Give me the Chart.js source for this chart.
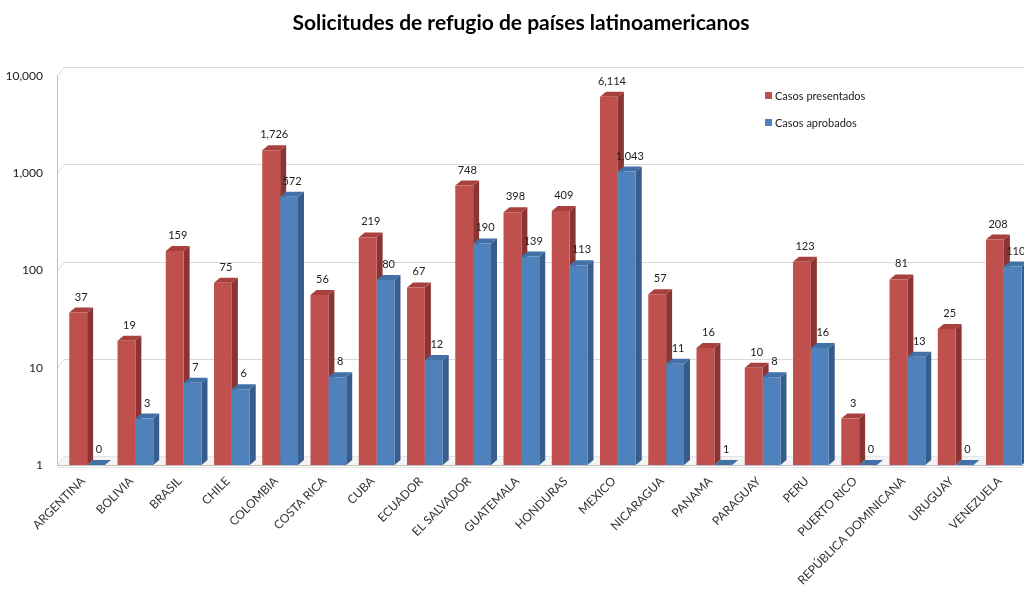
<!DOCTYPE html>
<html>
<head>
<meta charset="utf-8">
<script src="https://cdn.jsdelivr.net/npm/chart.js@4/dist/chart.umd.min.js"></script>
<style>
  html, body { margin: 0; padding: 0; background: #fff; overflow: hidden; }
  #wrap { width: 1024px; height: 594px; overflow: hidden; }
</style>
</head>
<body>
<div id="wrap"><canvas id="chart" width="1040" height="594"></canvas></div>
<script>
'use strict';

// ── Data ─────────────────────────────────────────────────────────────────────
const TITLE = 'Solicitudes de refugio de países latinoamericanos';
const PAISES = ['ARGENTINA', 'BOLIVIA', 'BRASIL', 'CHILE', 'COLOMBIA', 'COSTA RICA', 'CUBA',
  'ECUADOR', 'EL SALVADOR', 'GUATEMALA', 'HONDURAS', 'MEXICO', 'NICARAGUA', 'PANAMA',
  'PARAGUAY', 'PERU', 'PUERTO RICO', 'REPÚBLICA DOMINICANA', 'URUGUAY', 'VENEZUELA'];
const PRESENTADOS = [37, 19, 159, 75, 1726, 56, 219, 67, 748, 398, 409, 6114, 57, 16, 10, 123, 3, 81, 25, 208];
const APROBADOS   = [0, 3, 7, 6, 572, 8, 80, 12, 190, 139, 113, 1043, 11, 1, 8, 16, 0, 13, 0, 110];
const Y_TICKS = [1, 10, 100, 1000, 10000];

// ── Look ─────────────────────────────────────────────────────────────────────
const FONT = 'Lato, "Open Sans", sans-serif';
const COLORS = [
  { front: '#c0504d', side: '#8a3533', top: '#a8413e' },
  { front: '#4f81bd', side: '#365d8c', top: '#4271a8' },
];
const BAR_DX = 6, BAR_DY = 5;     // bar depth
const WALL_DX = 7, WALL_DY = 9;   // back wall offset

const fmt = v => v.toLocaleString('en-US');

// back wall, floor, bar sides and tops (fronts are drawn by Chart.js)
const depthPlugin = {
  id: 'depth',
  beforeDatasetsDraw(chart) {
    const { ctx, chartArea: a, scales: { y } } = chart;
    const ax = a.left - 6;
    ctx.save();
    ctx.strokeStyle = '#d9d9d9';
    ctx.lineWidth = 1;
    Y_TICKS.forEach(v => {
      const py = Math.round(y.getPixelForValue(v)) + 0.5;
      ctx.beginPath();
      ctx.moveTo(ax, py);
      ctx.lineTo(ax + WALL_DX, py - WALL_DY);
      ctx.lineTo(chart.width, py - WALL_DY);
      ctx.stroke();
    });
    // floor
    const fy = Math.round(a.bottom) + 0.5;
    ctx.fillStyle = '#f4f4f4';
    ctx.beginPath();
    ctx.moveTo(ax, fy);
    ctx.lineTo(ax + WALL_DX, fy - WALL_DY);
    ctx.lineTo(chart.width, fy - WALL_DY);
    ctx.lineTo(chart.width, fy);
    ctx.closePath();
    ctx.fill();
    ctx.strokeStyle = '#bfbfbf';
    ctx.beginPath();
    ctx.moveTo(ax + 0.5, a.top);
    ctx.lineTo(ax + 0.5, fy);
    ctx.lineTo(chart.width, fy);
    ctx.stroke();
    ctx.strokeStyle = '#e6e6e6';
    ctx.beginPath();
    ctx.moveTo(ax + 0.5, fy + 2);
    ctx.lineTo(chart.width, fy + 2);
    ctx.stroke();

    chart.data.datasets.forEach((ds, di) => {
      const c = COLORS[di];
      chart.getDatasetMeta(di).data.forEach(bar => {
        const x1 = bar.x - bar.width / 2, x2 = bar.x + bar.width / 2;
        const top = bar.y, base = bar.base;
        ctx.fillStyle = c.side;
        ctx.beginPath();
        ctx.moveTo(x2, base);
        ctx.lineTo(x2, top);
        ctx.lineTo(x2 + BAR_DX, top - BAR_DY);
        ctx.lineTo(x2 + BAR_DX, base - BAR_DY);
        ctx.closePath();
        ctx.fill();
        ctx.fillStyle = c.top;
        ctx.beginPath();
        ctx.moveTo(x1, top);
        ctx.lineTo(x2, top);
        ctx.lineTo(x2 + BAR_DX, top - BAR_DY);
        ctx.lineTo(x1 + BAR_DX, top - BAR_DY);
        ctx.closePath();
        ctx.fill();
      });
    });
    ctx.restore();
  },
  afterDatasetsDraw(chart) {
    const { ctx } = chart;
    ctx.save();
    ctx.font = '11px ' + FONT;
    ctx.fillStyle = '#222';
    ctx.textAlign = 'center';
    ctx.textBaseline = 'bottom';
    chart.data.datasets.forEach((ds, di) => {
      chart.getDatasetMeta(di).data.forEach((bar, i) => {
        ctx.fillText(fmt(ds.data[i]), bar.x + 3, bar.y - BAR_DY - 5);
      });
    });
    // title
    ctx.font = 'bold 21px ' + FONT;
    ctx.fillStyle = '#000';
    ctx.textBaseline = 'middle';
    ctx.fillText(TITLE, 521, 23);
    // legend
    ctx.font = '11px ' + FONT;
    ctx.textAlign = 'left';
    chart.data.datasets.forEach((ds, di) => {
      const ly = 96 + di * 27;
      ctx.fillStyle = COLORS[di].front;
      ctx.fillRect(765, ly - 4, 7, 7);
      ctx.fillStyle = '#222';
      ctx.fillText(ds.label, 775, ly);
    });
    ctx.restore();
  },
};

new Chart(document.getElementById('chart'), {
  type: 'bar',
  data: {
    labels: PAISES,
    datasets: [
      { label: 'Casos presentados', data: PRESENTADOS, backgroundColor: COLORS[0].front },
      { label: 'Casos aprobados', data: APROBADOS, backgroundColor: COLORS[1].front },
    ],
  },
  options: {
    responsive: false,
    animation: false,
    layout: { padding: { top: 76, right: 12, left: 0, bottom: 0 } },
    datasets: { bar: { categoryPercentage: 0.74, barPercentage: 1 } },
    plugins: { legend: { display: false }, title: { display: false }, tooltip: { enabled: false } },
    scales: {
      x: {
        grid: { display: false },
        border: { display: false },
        ticks: {
          autoSkip: false, minRotation: 45, maxRotation: 45, padding: 1, labelOffset: -4,
          color: '#333', font: { family: FONT, size: 12 },
        },
        afterFit(s) { s.height = 129; },
      },
      y: {
        type: 'logarithmic',
        min: 1, max: 10000,
        grid: { display: false, drawTicks: false },
        border: { display: false },
        ticks: { padding: 20, color: '#222', font: { family: FONT, size: 12 }, callback: v => fmt(v) },
        afterBuildTicks(s) { s.ticks = Y_TICKS.map(v => ({ value: v })); },
        afterFit(s) { s.width = 63; },
      },
    },
  },
  plugins: [depthPlugin],
});
</script>
</body>
</html>
